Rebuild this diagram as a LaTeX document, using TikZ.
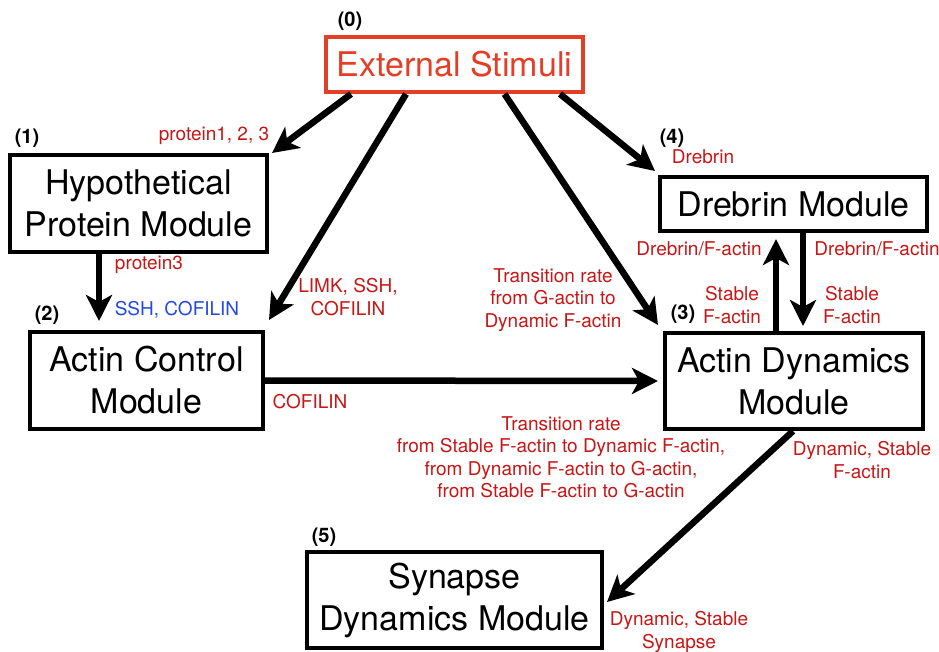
\documentclass[tikz,border=0pt]{standalone}
\usepackage{fontspec}
\setmainfont{TeX Gyre Heros}
\usetikzlibrary{arrows.meta}
\definecolor{extred}{RGB}{228,62,38}
\definecolor{labred}{RGB}{200,22,22}
\definecolor{labblue}{RGB}{36,72,224}
\begin{document}
\begin{tikzpicture}[x=1pt,y=-1pt,
  box/.style={draw=black, line width=4pt, align=center, font=\fontsize{34}{42}\selectfont, inner sep=0pt},
  lab/.style={text=labred, align=center, font=\fontsize{19}{22.5}\selectfont, inner sep=0pt},
  num/.style={font=\fontsize{20}{24}\selectfont\bfseries, inner sep=0pt},
  arr/.style={line width=6.5pt, -{Stealth[length=26pt,width=26pt,inset=7pt]}}]
\useasboundingbox[fill=white] (0,0) rectangle (939,651);

% boxes
\node[box, draw=extred, text=extred, minimum width=257pt, minimum height=55pt] (ext) at (454.5,64.5) {External Stimuli};
\node[box, minimum width=257pt, minimum height=97pt] (hyp) at (138.5,203.5) {Hypothetical\\Protein Module};
\node[box, minimum width=233pt, minimum height=97pt] (ctrl) at (146.5,380.5) {Actin Control\\Module};
\node[box, minimum width=267pt, minimum height=54pt] (dreb) at (793.5,204) {Drebrin Module};
\node[box, minimum width=258pt, minimum height=96pt] (dyn) at (794,381) {Actin Dynamics\\Module};
\node[box, minimum width=295pt, minimum height=96pt] (syn) at (454.5,600) {Synapse\\Dynamics Module};

% numbers
\node[num] (n0) at (350,21) {(0)};
\node[num] (n1) at (27,138) {(1)};
\node[num] (n2) at (47,315) {(2)};
\node[num] (n3) at (683,314) {(3)};
\node[num] (n4) at (672,138) {(4)};
\node[num] (n5) at (324,537) {(5)};

% labels
\node[lab] (lp123) at (214,136) {protein1, 2, 3};
\node[lab] (lp3) at (149,265) {protein3};
\node[lab, text=labblue] (lssh) at (177,310) {SSH, COFILIN};
\node[lab] (llimk) at (348,297) {LIMK, SSH,\\COFILIN};
\node[lab] (lcof) at (310,402) {COFILIN};
\node[lab] (ldreb) at (703,157) {Drebrin};
\node[lab] (ltr1) at (553,300) {Transition rate\\from G-actin to\\Dynamic F-actin};
\node[lab] (ldfl) at (699,249) {Drebrin/F-actin};
\node[lab] (ldfr) at (877,249) {Drebrin/F-actin};
\node[lab] (lsfl) at (732,305) {Stable\\F-actin};
\node[lab] (lsfr) at (852,305) {Stable\\F-actin};
\node[lab] (ltr2) at (561,457) {Transition rate\\from Stable F-actin to Dynamic F-actin,\\from Dynamic F-actin to G-actin,\\from Stable F-actin to G-actin};
\node[lab] (ldsf) at (862,460) {Dynamic, Stable\\F-actin};
\node[lab] (ldss) at (679,632) {Dynamic, Stable\\Synapse};

% arrows
\draw[arr] ([shift={(27,0)}]ext.south west) -- ([shift={(3,0)}]hyp.north east);
\draw[arr] ([shift={(82,0)}]ext.south west) -- ([shift={(4,-10)}]ctrl.north east);
\draw[arr] ([shift={(-25,0)}]ext.south east) -- ([shift={(-3,-4)}]dreb.north west);
\draw[arr] ([shift={(50,0)}]ext.south) -- ([shift={(-5,-6)}]dyn.north west);
\draw[arr] ([shift={(-39.5,0)}]hyp.south) -- ([shift={(-47.5,-9)}]ctrl.north);
\draw[arr] (ctrl.east) -- ([shift={(-5,0)}]dyn.west);
\draw[arr] ([shift={(-18,0)}]dyn.north) -- ([shift={(-17.5,6)}]dreb.south);
\draw[arr] ([shift={(9.5,0)}]dreb.south) -- ([shift={(9,-5)}]dyn.north);
\draw[arr] ([shift={(-1,0)}]dyn.south) -- ([shift={(3,2)}]syn.east);
\end{tikzpicture}
\end{document}
